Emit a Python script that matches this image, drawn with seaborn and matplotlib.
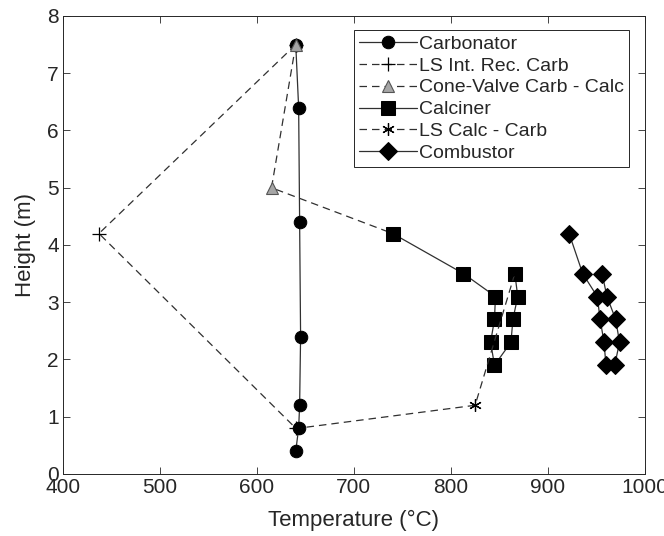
import matplotlib
matplotlib.use("Agg")
import matplotlib.pyplot as plt
import seaborn as sns

# Carbonator riser profile
carb_T = [640, 643, 644, 645, 644, 643, 640]
carb_h = [0.4, 0.8, 1.2, 2.4, 4.4, 6.4, 7.5]

# loop seal internal recirculation (carbonator)
ls_int_T = [640, 437, 640]
ls_int_h = [7.5, 4.2, 0.8]

# cone valve carbonator -> calciner
cone_T = [640, 615, 740]
cone_h = [7.5, 5.0, 4.2]

# Calciner profile
calc_T = [740, 813, 846, 845, 841, 845, 862, 864, 869, 866]
calc_h = [4.2, 3.5, 3.1, 2.7, 2.3, 1.9, 2.3, 2.7, 3.1, 3.5]

# loop seal calciner -> carbonator
ls_calc_T = [866, 825, 643]
ls_calc_h = [3.5, 1.2, 0.8]

# Combustor profile
comb_T = [922, 936, 951, 954, 958, 960, 969, 974, 970, 961, 956]
comb_h = [4.2, 3.5, 3.1, 2.7, 2.3, 1.9, 1.9, 2.3, 2.7, 3.1, 3.5]

sns.set_style("ticks")
plt.rcParams["font.family"] = ["Liberation Sans", "DejaVu Sans"]
plt.rcParams["text.color"] = "#262626"
plt.rcParams["axes.labelcolor"] = "#262626"
plt.rcParams["xtick.color"] = "#262626"
plt.rcParams["ytick.color"] = "#262626"

fig = plt.figure(figsize=(6.64, 5.36), dpi=100)
ax = fig.add_axes([0.095, 0.1157, 0.876, 0.8545])

lc = "#303030"
lw = 0.9
series = [
    (carb_T, carb_h, "Carbonator", dict(marker="o", ms=9, linestyle="-", mfc="black", mec="black")),
    (ls_int_T, ls_int_h, "LS Int. Rec. Carb", dict(marker="+", ms=10, linestyle="--", mfc="black", mec="black", mew=0.9)),
    (cone_T, cone_h, "Cone-Valve Carb - Calc", dict(marker="^", ms=9, linestyle="--", mfc="#a6a6a6", mec="#555555", mew=0.8)),
    (calc_T, calc_h, "Calciner", dict(marker="s", ms=10, linestyle="-", mfc="black", mec="black")),
    (ls_calc_T, ls_calc_h, "LS Calc - Carb", dict(marker=(6, 2, 0), ms=9, linestyle="--", mfc="black", mec="black", mew=0.9)),
    (comb_T, comb_h, "Combustor", dict(marker="D", ms=9.2, linestyle="-", mfc="black", mec="black")),
]

for T, h, name, style in series:
    sns.lineplot(x=T, y=h, sort=False, estimator=None, ax=ax, label=name,
                 color=lc, lw=lw, dashes=(6, 4) if style["linestyle"] == "--" else "",
                 **{k: v for k, v in style.items() if k != "linestyle"})

ax.set_xlim(400, 1000)
ax.set_ylim(0, 8)
ax.set_xticks([400, 500, 600, 700, 800, 900, 1000])
ax.set_yticks(range(0, 9))
ax.set_xlabel("Temperature (°C)", fontsize=16, labelpad=9)
ax.set_ylabel("Height (m)", fontsize=16, labelpad=8)
ax.tick_params(direction="in", top=True, right=True, labelsize=15, length=5, width=0.6, pad=3)
for s in ax.spines.values():
    s.set_visible(True)
    s.set_color("#262626")
    s.set_linewidth(0.7)

leg = ax.legend(loc="upper right", bbox_to_anchor=(0.9725, 0.969), fontsize=14,
                frameon=True, fancybox=False, framealpha=1, edgecolor="#262626",
                handlelength=3.0, handletextpad=0.1, labelspacing=0.22,
                borderpad=0.25, borderaxespad=0)
leg.get_frame().set_linewidth(0.7)

fig.savefig("out.png", dpi=100)
